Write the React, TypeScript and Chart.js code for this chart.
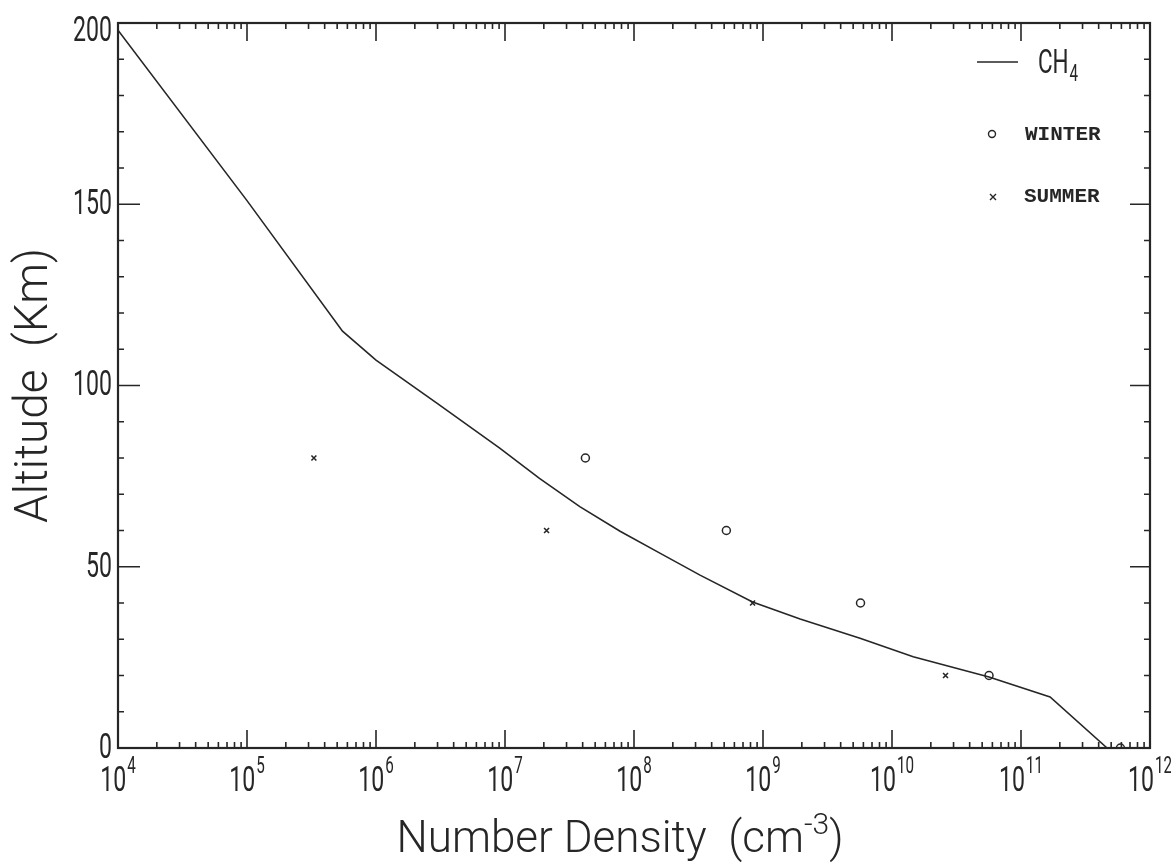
import React, { useEffect, useRef } from "react";
import { Chart, registerables } from "chart.js";

Chart.register(...registerables);

// ---- data ----
const ch4Density = [1e4, 1e5, 5.5e5, 1e6, 3e6, 9.1e6, 1.85e7, 3.8e7, 7.8e7, 1.6e8, 3.25e8, 8.3e8, 1.94e9, 5.65e9, 1.46e10, 5.65e10, 1.68e11, 4.65e11];
const ch4Altitude = [198, 151, 115, 107, 95, 82.7, 74.4, 66.6, 59.8, 53.7, 47.7, 40.3, 35.6, 30.3, 25.2, 19.6, 14.1, 0];

const winterDensity = [4.2e7, 5.2e8, 5.7e9, 5.65e10, 5.9e11];
const winterAltitude = [80, 60, 40, 20, 0];

const summerDensity = [3.3e5, 2.1e7, 8.3e8, 2.6e10];
const summerAltitude = [80, 60, 40, 20];

const altitudeTicks = [0, 50, 100, 150, 200];
const altitudeMinorStep = 10;
const densityExponents = [4, 5, 6, 7, 8, 9, 10, 11, 12];

const seriesNames = ["CH", "WINTER", "SUMMER"];
const yTitle = "Altitude  (Km)";
const xTitle = "Number Density  (cm";
const xTitleSup = "-3";

const INK = "#262626";
const SANS = "Roboto, 'Liberation Sans', sans-serif";

function condensedText(
  ctx: CanvasRenderingContext2D,
  text: string,
  x: number,
  y: number,
  font: string,
  sx: number,
  align: CanvasTextAlign,
  baseline: CanvasTextBaseline
) {
  ctx.save();
  ctx.translate(x, y);
  ctx.scale(sx, 1);
  ctx.font = font;
  ctx.textAlign = align;
  ctx.textBaseline = baseline;
  ctx.fillText(text, 0, 0);
  ctx.restore();
}

function measure(ctx: CanvasRenderingContext2D, text: string, font: string, sx: number) {
  ctx.save();
  ctx.font = font;
  const w = ctx.measureText(text).width * sx;
  ctx.restore();
  return w;
}

const framePlugin = {
  id: "frame",
  afterDraw(chart: any) {
    const { ctx, chartArea: a, scales } = chart;
    const xs = scales.x;
    const ys = scales.y;
    ctx.save();
    ctx.fillStyle = INK;
    ctx.strokeStyle = INK;

    // frame
    ctx.lineWidth = 2.2;
    ctx.strokeRect(a.left, a.top, a.right - a.left, a.bottom - a.top);

    // y ticks (inward, both sides)
    ctx.lineWidth = 1.6;
    ctx.beginPath();
    for (let v = altitudeTicks[0]; v <= altitudeTicks[altitudeTicks.length - 1]; v += altitudeMinorStep) {
      const y = ys.getPixelForValue(v);
      const major = altitudeTicks.includes(v);
      ctx.moveTo(a.left, y);
      ctx.lineTo(a.left + (major ? 22 : 6), y);
      ctx.moveTo(a.right, y);
      ctx.lineTo(a.right - (major ? 20 : 6), y);
    }
    // x ticks (inward, both sides)
    for (let i = 0; i < densityExponents.length; i++) {
      const e = densityExponents[i];
      const x = xs.getPixelForValue(Math.pow(10, e));
      ctx.moveTo(x, a.bottom);
      ctx.lineTo(x, a.bottom - 18);
      ctx.moveTo(x, a.top);
      ctx.lineTo(x, a.top + 18);
      if (i < densityExponents.length - 1) {
        for (let m = 2; m <= 9; m++) {
          const xm = xs.getPixelForValue(m * Math.pow(10, e));
          ctx.moveTo(xm, a.bottom);
          ctx.lineTo(xm, a.bottom - 6);
          ctx.moveTo(xm, a.top);
          ctx.lineTo(xm, a.top + 6);
        }
      }
    }
    ctx.stroke();

    // y tick labels
    const tickFont = `400 35px ${SANS}`;
    const SX = 0.66;
    for (const v of altitudeTicks) {
      const y = Math.max(ys.getPixelForValue(v), a.top + 8);
      condensedText(ctx, String(v), a.left - 6, y + 1, tickFont, SX, "right", "middle");
    }

    // x tick labels 10^n
    const supFont = `400 23px ${SANS}`;
    for (const e of densityExponents) {
      const x = xs.getPixelForValue(Math.pow(10, e));
      const w1 = measure(ctx, "10", tickFont, SX);
      const w2 = measure(ctx, String(e), supFont, SX);
      const start = x - (w1 + w2 + 1) / 2;
      condensedText(ctx, "10", start, a.bottom + 43, tickFont, SX, "left", "alphabetic");
      condensedText(ctx, String(e), start + w1 + 1, a.bottom + 25, supFont, SX, "left", "alphabetic");
    }

    // axis titles
    const titleFont = `300 46px ${SANS}`;
    ctx.save();
    ctx.translate(35, (a.top + a.bottom) / 2);
    ctx.rotate(-Math.PI / 2);
    ctx.font = titleFont;
    ctx.textAlign = "center";
    ctx.textBaseline = "middle";
    ctx.fillText(yTitle, 0, 0);
    ctx.restore();

    const xTitleFont = `300 44px ${SANS}`;
    const titleSupFont = `300 30px ${SANS}`;
    const tw1 = measure(ctx, xTitle, xTitleFont, 1);
    const tw2 = measure(ctx, xTitleSup, titleSupFont, 1);
    const tw3 = measure(ctx, ")", xTitleFont, 1);
    let tx = (a.left + a.right) / 2 - 14 - (tw1 + tw2 + tw3) / 2;
    const tBase = a.bottom + 104;
    condensedText(ctx, xTitle, tx, tBase, xTitleFont, 1, "left", "alphabetic");
    tx += tw1;
    condensedText(ctx, xTitleSup, tx, tBase - 18, titleSupFont, 1, "left", "alphabetic");
    tx += tw2;
    condensedText(ctx, ")", tx, tBase, xTitleFont, 1, "left", "alphabetic");

    // legend
    ctx.lineWidth = 1.6;
    ctx.beginPath();
    ctx.moveTo(977, 62);
    ctx.lineTo(1018, 62);
    ctx.stroke();
    const legFont = `400 34px ${SANS}`;
    const wCH = measure(ctx, seriesNames[0], legFont, SX);
    condensedText(ctx, seriesNames[0], 1038, 73, legFont, SX, "left", "alphabetic");
    condensedText(ctx, "4", 1038 + wCH + 1, 81, `400 23px ${SANS}`, SX, "left", "alphabetic");

    ctx.lineWidth = 1.4;
    ctx.beginPath();
    ctx.arc(992, 134, 3.5, 0, Math.PI * 2);
    ctx.stroke();
    ctx.beginPath();
    ctx.moveTo(990, 194);
    ctx.lineTo(996, 200);
    ctx.moveTo(996, 194);
    ctx.lineTo(990, 200);
    ctx.stroke();
    const monoFont = `bold 21px 'Liberation Mono', 'DejaVu Sans Mono', monospace`;
    condensedText(ctx, seriesNames[1], 1025, 135, monoFont, 1, "left", "middle");
    condensedText(ctx, seriesNames[2], 1024, 197, monoFont, 1, "left", "middle");

    ctx.restore();
  },
};

export default function App() {
  const ref = useRef<HTMLCanvasElement>(null);

  useEffect(() => {
    document.body.style.margin = "0";
    const canvas = ref.current;
    if (!canvas) return;

    const toPoints = (xs: number[], ys: number[]) => xs.map((x, i) => ({ x, y: ys[i] }));

    const chart = new Chart(canvas, {
      type: "scatter",
      data: {
        datasets: [
          {
            label: "CH4",
            data: toPoints(ch4Density, ch4Altitude),
            showLine: true,
            borderColor: INK,
            borderWidth: 1.6,
            pointRadius: 0,
            tension: 0,
          },
          {
            label: seriesNames[1],
            data: toPoints(winterDensity, winterAltitude),
            pointStyle: "circle",
            pointRadius: 4,
            borderColor: INK,
            borderWidth: 1.5,
            backgroundColor: "rgba(0,0,0,0)",
          },
          {
            label: seriesNames[2],
            data: toPoints(summerDensity, summerAltitude),
            pointStyle: "crossRot",
            pointRadius: 3.5,
            borderColor: INK,
            borderWidth: 1.6,
          },
        ],
      },
      options: {
        responsive: false,
        animation: false,
        devicePixelRatio: 1,
        layout: { padding: { top: 23, right: 21, left: 0, bottom: 0 } },
        plugins: {
          legend: { display: false },
          tooltip: { enabled: false },
        },
        scales: {
          x: {
            type: "logarithmic",
            position: "bottom",
            min: 1e4,
            max: 1e12,
            grid: { display: false },
            border: { display: false },
            ticks: { display: false },
            afterFit: (s: any) => {
              s.height = 117;
            },
          },
          y: {
            type: "linear",
            min: altitudeTicks[0],
            max: altitudeTicks[altitudeTicks.length - 1],
            grid: { display: false },
            border: { display: false },
            ticks: { display: false, stepSize: 50 },
            afterFit: (s: any) => {
              s.width = 118;
            },
          },
        },
      },
      plugins: [framePlugin],
    } as any);

    return () => chart.destroy();
  }, []);

  return (
    <div style={{ width: 1171, height: 865, background: "#fff" }}>
      <canvas ref={ref} width={1171} height={865} style={{ display: "block" }} />
    </div>
  );
}
